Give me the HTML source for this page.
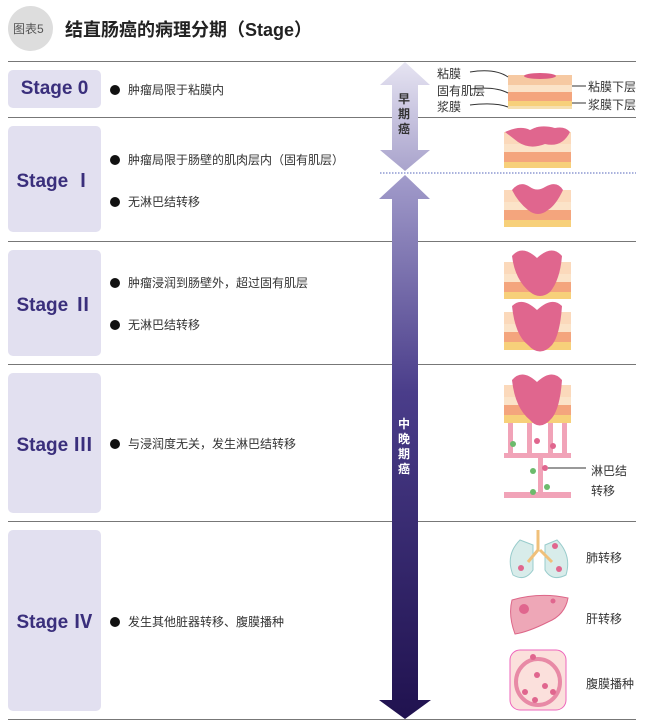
<!DOCTYPE html>
<html><head><meta charset="utf-8"><style>
body{margin:0;background:#fff;}
#c{position:relative;width:652px;height:728px;overflow:hidden;font-family:"Liberation Sans","Noto Sans CJK SC",sans-serif;}
.t{position:absolute;white-space:nowrap;}
.box{position:absolute;left:8px;width:93px;background:#e2e0f0;border-radius:5px;color:#3a2f7c;font-weight:bold;font-size:19px;display:flex;align-items:center;justify-content:center;}
.b{position:absolute;font-size:12px;color:#333;white-space:nowrap;}
.b::before{content:"";display:inline-block;width:10px;height:10px;border-radius:50%;background:#111;margin-right:8px;vertical-align:-1px;}
.ln{position:absolute;left:8px;width:628px;height:1px;background:#777;}
.lab{position:absolute;font-size:12px;color:#333;white-space:nowrap;}
</style></head><body><div id="c">
<div style="position:absolute;left:8px;top:6px;width:45px;height:45px;border-radius:50%;background:#ddd;"></div>
<div class="t" style="left:13px;top:20px;font-size:12px;color:#555;">图表5</div>
<div class="t" style="left:65px;top:16px;font-size:18px;font-weight:bold;color:#222;">结直肠癌的病理分期（Stage）</div>
<div class="ln" style="top:61px"></div>
<div class="ln" style="top:117px"></div>
<div class="ln" style="top:241px"></div>
<div class="ln" style="top:364px"></div>
<div class="ln" style="top:521px"></div>
<div class="ln" style="top:719px"></div>
<div class="box" style="top:70px;height:38px;">Stage 0</div>
<div class="box" style="top:126px;height:106px;">Stage Ⅰ</div>
<div class="box" style="top:250px;height:106px;">Stage Ⅱ</div>
<div class="box" style="top:373px;height:140px;">Stage Ⅲ</div>
<div class="box" style="top:530px;height:181px;">Stage Ⅳ</div>
<div class="b" style="left:110px;top:81px">肿瘤局限于粘膜内</div>
<div class="b" style="left:110px;top:151px">肿瘤局限于肠壁的肌肉层内（固有肌层）</div>
<div class="b" style="left:110px;top:193px">无淋巴结转移</div>
<div class="b" style="left:110px;top:274px">肿瘤浸润到肠壁外，超过固有肌层</div>
<div class="b" style="left:110px;top:316px">无淋巴结转移</div>
<div class="b" style="left:110px;top:435px">与浸润度无关，发生淋巴结转移</div>
<div class="b" style="left:110px;top:613px">发生其他脏器转移、腹膜播种</div>
<svg style="position:absolute;left:0;top:0" width="652" height="728">
<defs>
<linearGradient id="g1" x1="0" y1="0" x2="0" y2="1"><stop offset="0" stop-color="#e6e4f2"/><stop offset="1" stop-color="#a9a3cc"/></linearGradient>
<linearGradient id="g2" x1="0" y1="0" x2="0" y2="1"><stop offset="0" stop-color="#a29ccb"/><stop offset="0.4" stop-color="#4a3d8a"/><stop offset="1" stop-color="#20124f"/></linearGradient>
</defs>
<polygon points="405,62 430,85 418,85 418,150 430,150 405,171 380,150 392,150 392,85 380,85" fill="url(#g1)"/>
<polygon points="405,175 430,199 418,199 418,700 431,700 405,719 379,700 392,700 392,199 379,199" fill="url(#g2)"/>
<line x1="380" y1="173" x2="636" y2="173" stroke="#5566bb" stroke-dasharray="1.5,1.5"/>
<!-- stage0 layers -->
<g>
<rect x="508" y="75" width="64" height="10" fill="#f6c9a2"/><rect x="508" y="85" width="64" height="7" fill="#fbe3c8"/><rect x="508" y="92" width="64" height="9" fill="#f4a57d"/><rect x="508" y="101" width="64" height="5" fill="#f7d07a"/><rect x="508" y="106" width="64" height="3" fill="#f6e0b0"/>
<ellipse cx="540" cy="76" rx="16" ry="3" fill="#dd5c84"/>
</g>
<g>
<rect x="504" y="132" width="67" height="12" fill="#fbd9bb"/><rect x="504" y="144" width="67" height="8" fill="#fbe3c8"/><rect x="504" y="152" width="67" height="10" fill="#f4a57d"/><rect x="504" y="162" width="67" height="6" fill="#f7d07a"/>
<path d="M505,132 Q520,125 530,130 Q540,124 555,128 Q565,126 570,132 Q562,148 545,144 Q530,150 518,142 Z" fill="#e0668e"/>
</g>
<g>
<rect x="504" y="190" width="67" height="12" fill="#fbd9bb"/><rect x="504" y="202" width="67" height="8" fill="#fbe3c8"/><rect x="504" y="210" width="67" height="10" fill="#f4a57d"/><rect x="504" y="220" width="67" height="7" fill="#f7d07a"/>
<path d="M512,190 Q520,180 530,187 Q537,192 545,187 Q557,180 563,190 Q556,205 548,210 Q538,218 528,210 Q518,202 512,190 Z" fill="#e0668e"/>
</g>
<g>
<rect x="504" y="262" width="67" height="12" fill="#fbd9bb"/><rect x="504" y="274" width="67" height="8" fill="#fbe3c8"/><rect x="504" y="282" width="67" height="10" fill="#f4a57d"/><rect x="504" y="292" width="67" height="7" fill="#f7d07a"/>
<path d="M512,256 Q522,244 537,258 Q552,244 562,256 Q560,280 550,292 Q540,300 530,292 Q515,280 512,256 Z" fill="#e0668e"/>
</g>
<g>
<rect x="504" y="312" width="67" height="12" fill="#fbd9bb"/><rect x="504" y="324" width="67" height="8" fill="#fbe3c8"/><rect x="504" y="332" width="67" height="10" fill="#f4a57d"/><rect x="504" y="342" width="67" height="8" fill="#f7d07a"/>
<path d="M512,306 Q522,296 537,310 Q552,296 562,306 Q560,335 552,345 Q540,358 528,345 Q515,335 512,306 Z" fill="#e0668e"/>
</g>
<g>
<rect x="504" y="385" width="67" height="12" fill="#fbd9bb"/><rect x="504" y="397" width="67" height="8" fill="#fbe3c8"/><rect x="504" y="405" width="67" height="10" fill="#f4a57d"/><rect x="504" y="415" width="67" height="8" fill="#f7d07a"/>
<path d="M512,380 Q522,368 537,382 Q552,368 562,380 Q560,408 552,418 Q540,432 530,420 Q515,408 512,380 Z" fill="#e0668e"/>
<g fill="#f1a3b8"><rect x="508" y="423" width="5" height="32"/><rect x="527" y="423" width="5" height="32"/><rect x="548" y="423" width="5" height="32"/><rect x="562" y="423" width="5" height="32"/><rect x="504" y="453" width="67" height="5"/><rect x="538" y="458" width="5" height="35"/><rect x="504" y="492" width="67" height="6"/></g>
<g fill="#6cbb6c"><circle cx="513" cy="444" r="3"/><circle cx="533" cy="471" r="3"/><circle cx="533" cy="492" r="3"/><circle cx="547" cy="487" r="3"/></g>
<g fill="#e0668e"><circle cx="537" cy="441" r="3"/><circle cx="553" cy="446" r="3"/><circle cx="545" cy="468" r="3"/></g>
<line x1="548" y1="468" x2="586" y2="468" stroke="#333"/>
</g>
<g>
<path d="M520,540 Q505,555 513,575 Q525,582 533,570 L533,545 Z M557,540 Q572,555 566,575 Q552,582 545,570 L545,545 Z" fill="#d8ecea" stroke="#9cc" />
<path d="M538,530 L538,550 L528,562 M540,550 L552,562" stroke="#f0c07a" stroke-width="3" fill="none"/>
<circle cx="521" cy="568" r="3" fill="#e0668e"/><circle cx="555" cy="546" r="3" fill="#e0668e"/><circle cx="559" cy="569" r="3" fill="#e0668e"/>
<path d="M512,600 Q540,592 568,598 Q565,615 548,622 Q528,632 515,634 Q508,615 512,600 Z" fill="#eea7b7" stroke="#d68"/>
<circle cx="524" cy="609" r="5" fill="#e0668e"/><circle cx="553" cy="601" r="2.5" fill="#e0668e"/>
<rect x="510" y="650" width="56" height="60" rx="10" fill="#fbe0dc" stroke="#e6b"/>
<ellipse cx="538" cy="682" rx="22" ry="23" fill="none" stroke="#e88aa6" stroke-width="4"/>
<g fill="#e0668e"><circle cx="533" cy="657" r="3"/><circle cx="537" cy="675" r="3"/><circle cx="545" cy="686" r="3"/><circle cx="525" cy="692" r="3"/><circle cx="553" cy="692" r="3"/><circle cx="535" cy="700" r="3"/></g>
</g>
<g stroke="#333" fill="none" stroke-width="1">
<path d="M470,72 Q495,68 508,77"/><path d="M470,89 Q495,86 508,93"/><path d="M470,105 Q495,102 508,107"/>
<line x1="572" y1="86" x2="586" y2="86"/><line x1="572" y1="103" x2="586" y2="103"/>
</g>
</svg>
<div class="t" style="left:398px;top:92px;font-size:12px;font-weight:bold;color:#333;line-height:15px;width:14px;">早<br>期<br>癌</div>
<div class="t" style="left:398px;top:417px;font-size:12px;font-weight:bold;color:#fff;line-height:15px;width:14px;">中<br>晚<br>期<br>癌</div>
<div class="lab" style="left:437px;top:65px">粘膜</div>
<div class="lab" style="left:437px;top:82px">固有肌层</div>
<div class="lab" style="left:437px;top:98px">浆膜</div>
<div class="lab" style="left:588px;top:78px">粘膜下层</div>
<div class="lab" style="left:588px;top:96px">浆膜下层</div>
<div class="lab" style="left:591px;top:461px;line-height:20px">淋巴结<br>转移</div>
<div class="lab" style="left:586px;top:549px">肺转移</div>
<div class="lab" style="left:586px;top:610px">肝转移</div>
<div class="lab" style="left:586px;top:675px">腹膜播种</div>
</div></body></html>
